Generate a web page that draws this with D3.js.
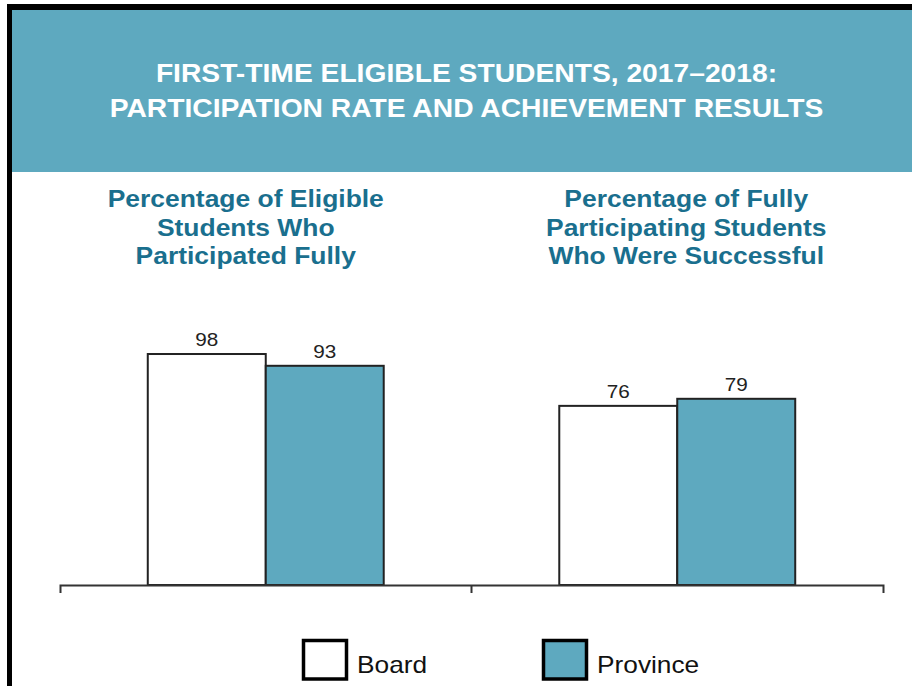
<!DOCTYPE html>
<html>
<head>
<meta charset="utf-8">
<script src="https://cdn.jsdelivr.net/npm/d3@7"></script>
<style>
  body { margin: 0; background: #fff; }
  text { font-family: "Liberation Sans", Arial, sans-serif; }
</style>
</head>
<body>
<div id="chart"></div>
<script>
// chart data
const groups = ["Eligible", "Successful"];
const series = ["Board", "Province"];
const boardValues = [98, 76];
const provinceValues = [93, 79];
const groupTitles = [
  ["Percentage of Eligible", "Students Who", "Participated Fully"],
  ["Percentage of Fully", "Participating Students", "Who Were Successful"]
];
const headerLines = ["FIRST-TIME ELIGIBLE STUDENTS, 2017\u20132018:", "PARTICIPATION RATE AND ACHIEVEMENT RESULTS"];

const teal = "#5ea9bf";
const titleBlue = "#1a6f8e";

var width = 912, height = 686;

// the source text is a bit wider than plain Arial, so stretch it horizontally
function place(x, y, sx) {
  return "translate(" + x + "," + y + ") scale(" + sx + ",1)";
}

const svg = d3.select("#chart")
  .append("svg")
    .attr("width", width)
    .attr("height", height);

// frame + header band
svg.append("rect").attr("x", 0).attr("y", 0).attr("width", width).attr("height", height).attr("fill", "#fff");
svg.append("rect")
  .attr("x", 12).attr("y", 10).attr("width", width - 12).attr("height", 162)
  .attr("fill", teal);
svg.append("line") // top border
  .attr("x1", 7).attr("x2", width).attr("y1", 7).attr("y2", 7)
  .attr("stroke", "#000").attr("stroke-width", 6);
svg.append("line") // left border
  .attr("x1", 9.5).attr("x2", 9.5).attr("y1", 4).attr("y2", height)
  .attr("stroke", "#000").attr("stroke-width", 5);

svg.append("g")
  .selectAll("text")
  .data(headerLines)
  .enter()
  .append("text")
    .attr("transform", (d, i) => place(466.5, 82 + i * 35, 1.13))
    .attr("text-anchor", "middle")
    .attr("fill", "#fff")
    .attr("font-weight", "bold")
    .attr("font-size", "25px")
    .text(d => d);

// scales
var x0 = d3.scaleBand()
  .domain(groups)
  .range([60, 883]);

var x1 = d3.scaleBand()
  .domain(series)
  .range([0, x0.bandwidth()])
  .paddingOuter(0.744);

var y = d3.scaleLinear()
  .domain([0, 100])
  .range([585, 349.3]);

const data = groups.map((g, i) => ({
  group: g,
  values: [
    { key: "Board", value: boardValues[i] },
    { key: "Province", value: provinceValues[i] }
  ]
}));

const fillFor = { Board: "#fff", Province: teal };
const titleShift = [-20, 9];

// group titles
groups.forEach((g, i) => {
  svg.append("g")
    .selectAll("text")
    .data(groupTitles[i])
    .enter()
    .append("text")
      .attr("transform", (d, j) => place(x0(g) + x0.bandwidth() / 2 + titleShift[i], 207 + j * 28.5, 1.15))
      .attr("text-anchor", "middle")
      .attr("fill", titleBlue)
      .attr("font-weight", "bold")
      .attr("font-size", "23px")
      .text(d => d);
});

// bars
const gGroups = svg.append("g")
  .selectAll(".g-group")
  .data(data)
  .enter()
  .append("g")
    .attr("class", "g-group")
    .attr("transform", d => "translate(" + x0(d.group) + ",0)");

gGroups.selectAll("rect")
  .data(d => d.values)
  .enter()
  .append("rect")
    .attr("x", d => x1(d.key))
    .attr("y", d => y(d.value))
    .attr("width", x1.bandwidth())
    .attr("height", d => y(0) - y(d.value))
    .attr("fill", d => fillFor[d.key])
    .attr("stroke", "#222")
    .attr("stroke-width", 2);

gGroups.selectAll(".label")
  .data(d => d.values)
  .enter()
  .append("text")
    .attr("class", "label")
    .attr("transform", d => place(x1(d.key) + x1.bandwidth() / 2, y(d.value) - 8, 1.15))
    .attr("text-anchor", "middle")
    .attr("font-size", "18px")
    .attr("fill", "#222")
    .text(d => d.value);

// baseline axis with tick marks between groups
const xAxis = d3.axisBottom(x0)
  .tickValues([])
  .tickSizeOuter(8);

svg.append("g")
  .attr("transform", "translate(0,585)")
  .call(xAxis)
  .call(g => g.select(".domain").attr("stroke", "#333").attr("stroke-width", 2));

svg.append("line")
  .attr("x1", x0(groups[1])).attr("x2", x0(groups[1]))
  .attr("y1", 585).attr("y2", 593)
  .attr("stroke", "#333").attr("stroke-width", 2);

// legend
const legend = svg.append("g")
  .selectAll(".legend")
  .data(series)
  .enter()
  .append("g")
    .attr("class", "legend")
    .attr("transform", (d, i) => "translate(" + (303.5 + i * 240) + ",640.5)");

legend.append("rect")
  .attr("width", 43)
  .attr("height", 38.5)
  .attr("fill", d => fillFor[d])
  .attr("stroke", "#000")
  .attr("stroke-width", 3.5);

legend.append("text")
  .attr("transform", place(53.5, 32.5, 1.095))
  .attr("font-size", "24px")
  .attr("fill", "#111")
  .text(d => d);
</script>
</body>
</html>
